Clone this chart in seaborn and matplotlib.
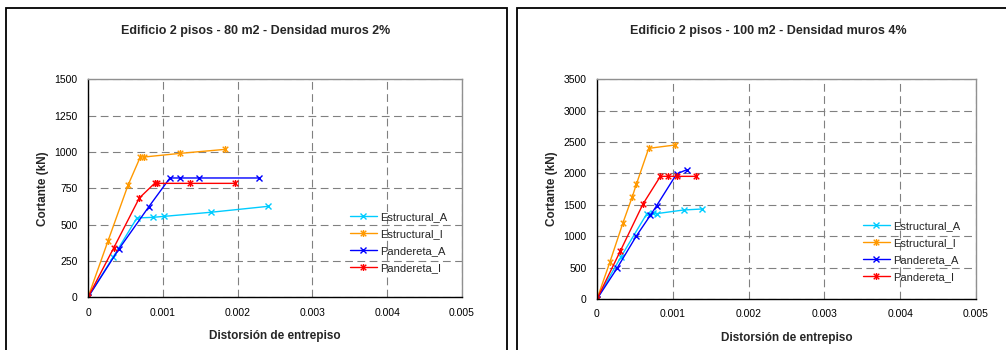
import matplotlib
matplotlib.use("Agg")
import matplotlib.pyplot as plt
import seaborn as sns
import pandas as pd
from matplotlib.path import Path
from matplotlib.patches import Rectangle

# ---------------- data ----------------
series_names = ["Estructural_A", "Estructural_I", "Pandereta_A", "Pandereta_I"]

# Chart 1: Edificio 2 pisos - 80 m2 - Densidad muros 2%
c1_estA_x = [0, 0.000334, 0.000654, 0.000864, 0.00102, 0.00164, 0.00241]
c1_estA_y = [0, 275, 546, 550, 557, 585, 626]
c1_estI_x = [0, 0.000267, 0.000534, 0.000699, 0.000744, 0.001224, 0.001834]
c1_estI_y = [0, 387, 770, 965, 965, 990, 1018]
c1_panA_x = [0, 0.00041, 0.00081, 0.001095, 0.001224, 0.00149, 0.00229]
c1_panA_y = [0, 330, 621, 821, 821, 821, 821]
c1_panI_x = [0, 0.000343, 0.000686, 0.00089, 0.00092, 0.00137, 0.00197]
c1_panI_y = [0, 339, 683, 784, 784, 784, 784]

# Chart 2: Edificio 2 pisos - 100 m2 - Densidad muros 4%
c2_estA_x = [0, 0.000317, 0.000655, 0.000743, 0.000787, 0.001143, 0.001385]
c2_estA_y = [0, 674, 1354, 1365, 1360, 1418, 1434]
c2_estI_x = [0, 0.000172, 0.000343, 0.000466, 0.000519, 0.000682, 0.001033]
c2_estI_y = [0, 595, 1216, 1630, 1827, 2400, 2454]
c2_panA_x = [0, 0.000264, 0.000519, 0.000704, 0.000787, 0.00105, 0.001187]
c2_panA_y = [0, 489, 1004, 1333, 1487, 1992, 2061]
c2_panI_x = [0, 0.000308, 0.000607, 0.000836, 0.000937, 0.00106, 0.0013]
c2_panI_y = [0, 765, 1514, 1954, 1954, 1954, 1954]

titles = ["Edificio 2 pisos - 80 m2 - Densidad muros 2%",
          "Edificio 2 pisos - 100 m2 - Densidad muros 4%"]
x_label = "Distorsión de entrepiso"
y_label = "Cortante (kN)"
x_ticks = [0, 0.001, 0.002, 0.003, 0.004, 0.005]
x_tick_labels = ["0", "0.001", "0.002", "0.003", "0.004", "0.005"]
y_ticks_1 = [0, 250, 500, 750, 1000, 1250, 1500]
y_ticks_2 = [0, 500, 1000, 1500, 2000, 2500, 3000, 3500]

# ---------------- style ----------------
sns.set_theme(style="white")
plt.rcParams["font.family"] = ["Liberation Sans", "DejaVu Sans"]

colors = {"Estructural_A": "#00CCFF", "Estructural_I": "#FF9900",
          "Pandereta_A": "#0000FF", "Pandereta_I": "#FF0000"}
star = Path([(-1, -1), (1, 1), (-1, 1), (1, -1), (0, -1.25), (0, 1.25)],
            [Path.MOVETO, Path.LINETO, Path.MOVETO, Path.LINETO, Path.MOVETO, Path.LINETO])
markers = {"Estructural_A": "x", "Estructural_I": star,
           "Pandereta_A": "x", "Pandereta_I": star}

W, H = 1006, 350
fig = plt.figure(figsize=(W / 100, H / 100), dpi=100)
fig.patch.set_facecolor("white")

# panel frames
fig.patches.append(Rectangle((6 / W, -0.1), (507 - 6) / W, (H - 8) / H + 0.1,
                             transform=fig.transFigure, fill=False,
                             edgecolor="black", linewidth=1.3))
fig.patches.append(Rectangle((517 / W, -0.1), 0.6, (H - 8) / H + 0.1,
                             transform=fig.transFigure, fill=False,
                             edgecolor="black", linewidth=1.3))


def build_df(chart):
    rows = []
    for name, xs, ys in chart:
        for x, y in zip(xs, ys):
            rows.append({"serie": name, "x": x, "y": y})
    return pd.DataFrame(rows)


charts = [
    [("Estructural_A", c1_estA_x, c1_estA_y), ("Estructural_I", c1_estI_x, c1_estI_y),
     ("Pandereta_A", c1_panA_x, c1_panA_y), ("Pandereta_I", c1_panI_x, c1_panI_y)],
    [("Estructural_A", c2_estA_x, c2_estA_y), ("Estructural_I", c2_estI_x, c2_estI_y),
     ("Pandereta_A", c2_panA_x, c2_panA_y), ("Pandereta_I", c2_panI_x, c2_panI_y)],
]

axes_px = [(88, 297.3, 462, 79.3), (597, 299, 976, 79.3)]  # left, bottom, right, top (pixels from top)
y_ticks_list = [y_ticks_1, y_ticks_2]
title_x = [256 / W, 768 / W]
legend_anchor = [(350 / W, (H - 212) / H), (863 / W, (H - 221) / H)]

for i in range(2):
    l, b, r, t = axes_px[i]
    ax = fig.add_axes([l / W, (H - b) / H, (r - l) / W, (b - t) / H])
    df = build_df(charts[i])
    for name in series_names:
        sub = df[df["serie"] == name]
        sns.lineplot(data=sub, x="x", y="y", ax=ax, sort=False, estimator=None,
                     color=colors[name], marker=markers[name], markersize=5,
                     markeredgewidth=1.0, markeredgecolor=colors[name],
                     linewidth=1.0, label=name)
    yt = y_ticks_list[i]
    ax.set_xlim(0, 0.005)
    ax.set_ylim(0, yt[-1])
    ax.set_xticks(x_ticks)
    ax.set_xticklabels(x_tick_labels)
    ax.set_yticks(yt)
    ax.set_yticklabels([str(v) for v in yt])
    ax.grid(True, color="#808080", linestyle=(0, (7, 4)), linewidth=0.8)
    ax.set_axisbelow(True)
    for s in ["left", "bottom"]:
        ax.spines[s].set_color("black")
        ax.spines[s].set_linewidth(1.0)
    for s in ["top", "right"]:
        ax.spines[s].set_color("#909090")
        ax.spines[s].set_linewidth(1.0)
    ax.tick_params(axis="both", direction="inout", length=5, width=0.8,
                   color="black", labelsize=7.5, labelcolor="black", pad=5)
    ax.set_xlabel(x_label, fontsize=8.5, fontweight="bold", labelpad=9)
    ax.set_ylabel(y_label, fontsize=8.5, fontweight="bold", labelpad=4)
    ax.legend(loc="upper left", bbox_to_anchor=legend_anchor[i],
              bbox_transform=fig.transFigure, frameon=False, fontsize=8,
              handlelength=2.4, handletextpad=0.3, labelspacing=0.62,
              borderpad=0, borderaxespad=0)
    fig.text(title_x[i], (H - 31) / H, titles[i], ha="center", va="center",
             fontsize=9, fontweight="bold")

fig.savefig("out.png", dpi=100)
